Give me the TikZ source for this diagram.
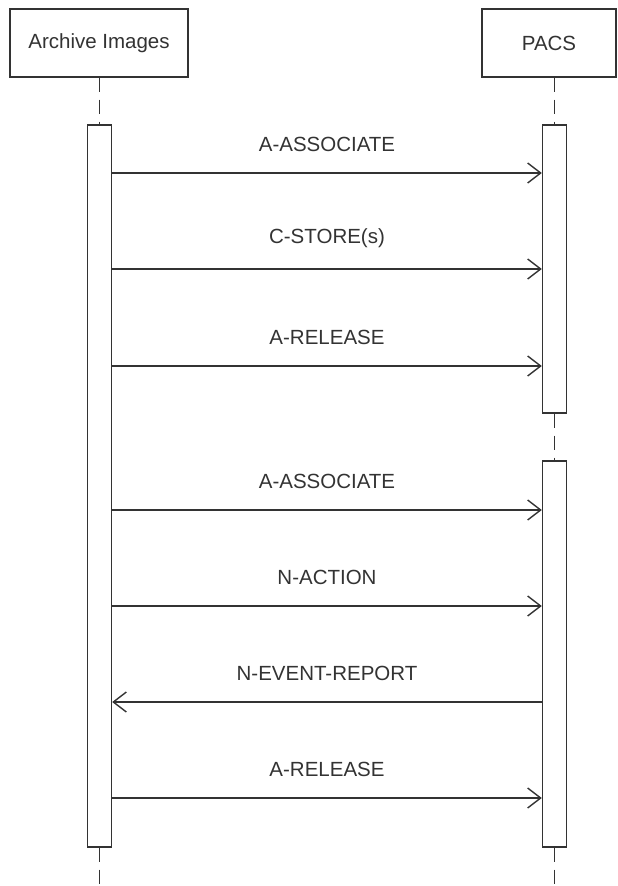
\documentclass[tikz,border=0pt]{standalone}
\usepackage{fontspec}
\setmainfont{Liberation Sans}
\usetikzlibrary{arrows.meta}
\begin{document}
\begin{tikzpicture}[x=1pt,y=-1pt,
  line width=1.4pt,
  obj/.style={draw=black!80,fill=white,minimum width=178pt,minimum height=68pt,inner sep=0pt,font=\fontsize{20.5}{24}\selectfont,text=black!80},
  act/.style={draw=black!80,fill=white,minimum width=24pt,inner sep=0pt},
  life/.style={draw=black!80,dash pattern=on 14pt off 8pt},
  msg/.style={draw=black!80,-{Straight Barb[length=13pt,width=20pt,line width=1.4pt]}},
  lbl/.style={font=\fontsize{20.5}{24}\selectfont,text=black!80,inner sep=0pt}]
\useasboundingbox (0,0) rectangle (618,886);
\node[obj] (arch) at (99,43) {Archive Images};
\node[obj,minimum width=134pt] (pacs) at (549,43) {PACS};
\node[act,minimum height=722pt] (actL) at (99.5,486) {};
\node[act,minimum height=288pt] (actR1) at (554.5,269) {};
\node[act,minimum height=386pt] (actR2) at (554.5,654) {};
\coordinate (endL) at (99.5,886);
\coordinate (endR) at (554.5,886);
% lifelines
\draw[life] (arch.south -| actL.center) -- (actL.north);
\draw[life] (actL.south) -- (endL);
\draw[life] (pacs.south -| actR1.center) -- (actR1.north);
\draw[life] (actR1.south) -- (actR2.north);
\draw[life] (actR2.south) -- (endR);
% messages
\draw[msg] (actL.east |- 0,173) -- (actR1.west |- 0,173) node[lbl,midway,above=21pt] (m1) {A-ASSOCIATE};
\draw[msg] (actL.east |- 0,269) -- (actR1.west |- 0,269) node[lbl,midway,above=21pt] (m2) {C-STORE(s)};
\draw[msg] (actL.east |- 0,366) -- (actR1.west |- 0,366) node[lbl,midway,above=21pt] (m3) {A-RELEASE};
\draw[msg] (actL.east |- 0,510) -- (actR2.west |- 0,510) node[lbl,midway,above=21pt] (m4) {A-ASSOCIATE};
\draw[msg] (actL.east |- 0,606) -- (actR2.west |- 0,606) node[lbl,midway,above=21pt] (m5) {N-ACTION};
\draw[msg] (actR2.west |- 0,702) -- (actL.east |- 0,702) node[lbl,midway,above=21pt] (m6) {N-EVENT-REPORT};
\draw[msg] (actL.east |- 0,798) -- (actR2.west |- 0,798) node[lbl,midway,above=21pt] (m7) {A-RELEASE};
\end{tikzpicture}
\end{document}
